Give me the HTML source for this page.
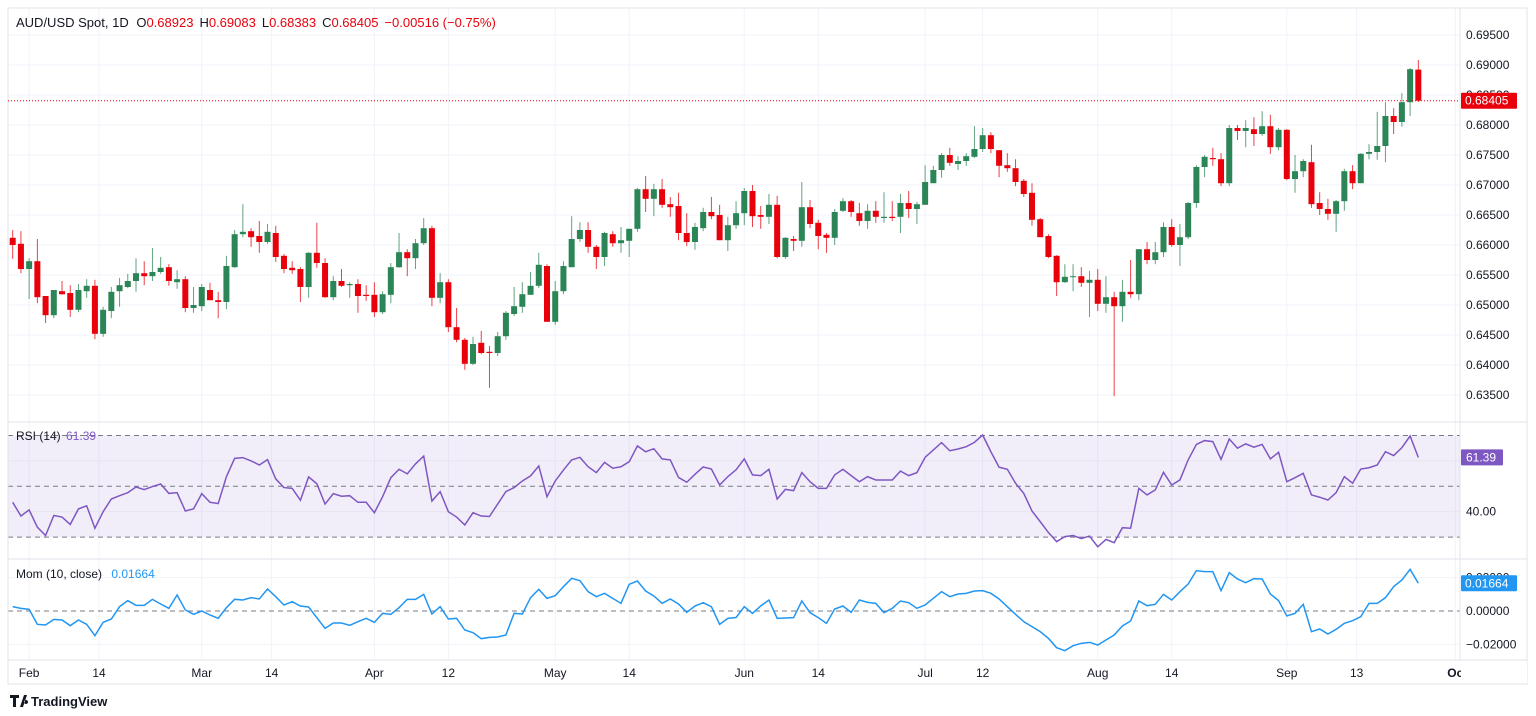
<!DOCTYPE html>
<html><head><meta charset="utf-8">
<style>
html,body{margin:0;padding:0;background:#fff;width:1536px;height:716px;overflow:hidden}
svg{display:block;font-family:"Liberation Sans",sans-serif}
</style></head>
<body>
<svg id="chart" width="1536" height="716" viewBox="0 0 1536 716" xmlns="http://www.w3.org/2000/svg">
<rect x="0" y="0" width="1536" height="716" fill="#fff"/>
<g id="grid"></g>
<g id="rsiPane"></g>
<g id="momPane"></g>
<g id="candles"></g>
<g id="axes"></g>
<g id="legend">
  <text x="16" y="27" font-size="13" fill="#131722">AUD/USD Spot, 1D <tspan dx="4">O</tspan><tspan fill="#e8000b">0.68923</tspan><tspan dx="6">H</tspan><tspan fill="#e8000b">0.69083</tspan><tspan dx="6">L</tspan><tspan fill="#e8000b">0.68383</tspan><tspan dx="6">C</tspan><tspan fill="#e8000b">0.68405</tspan><tspan dx="6" fill="#e8000b">−0.00516 (−0.75%)</tspan></text>
  <text x="16" y="440" font-size="12" fill="#131722">RSI (14) <tspan fill="#7e57c2" dx="2">61.39</tspan></text>
  <text x="16" y="578" font-size="12" fill="#131722">Mom (10, close) <tspan fill="#2196f3" dx="6">0.01664</tspan></text>
</g>
<g>
  <path d="M10 695 h9 v3 h-3 v9 h-3 v-9 h-3z M20 707 l4 -12 h3 l-4 12z M26 700 a2 2 0 1 0 0.1 0z" fill="#131722"/>
  <text x="31" y="706" font-size="13" fill="#131722" font-weight="bold">TradingView</text>
</g>
</svg>
<script>
const candles = [
[.6612,.6625,.6577,.6600],[.6602,.6623,.6553,.6560],[.6560,.6578,.6510,.6573],[.6573,.6610,.6503,.6513],[.6515,.6515,.6470,.6483],
[.6483,.6525,.6478,.6525],[.6523,.6540,.6517,.6518],[.6520,.6533,.6480,.6492],[.6492,.6535,.6488,.6525],[.6523,.6543,.6512,.6532],
[.6532,.6542,.6443,.6452],[.6452,.6497,.6447,.6492],[.6490,.6530,.6478,.6522],[.6523,.6545,.6497,.6533],[.6530,.6552,.6528,.6540],
[.6540,.6578,.6522,.6553],[.6553,.6573,.6533,.6548],[.6548,.6595,.6540,.6555],[.6555,.6580,.6552,.6562],[.6563,.6568,.6532,.6540],
[.6538,.6558,.6527,.6543],[.6543,.6548,.6488,.6495],[.6495,.6530,.6487,.6500],[.6498,.6535,.6490,.6530],[.6525,.6537,.6508,.6508],
[.6508,.6522,.6478,.6505],[.6505,.6582,.6493,.6565],[.6563,.6625,.6562,.6618],[.6618,.6668,.6613,.6622],[.6623,.6628,.6597,.6613],
[.6615,.6640,.6587,.6605],[.6605,.6635,.6602,.6622],[.6620,.6632,.6572,.6580],[.6582,.6585,.6553,.6560],[.6562,.6573,.6552,.6558],
[.6560,.6563,.6505,.6530],[.6530,.6588,.6512,.6587],[.6587,.6637,.6562,.6570],[.6570,.6578,.6512,.6513],[.6513,.6548,.6508,.6540],
[.6540,.6560,.6530,.6532],[.6533,.6538,.6512,.6535],[.6535,.6543,.6487,.6515],[.6517,.6533,.6507,.6515],[.6517,.6538,.6480,.6488],
[.6488,.6523,.6485,.6518],[.6517,.6570,.6503,.6563],[.6563,.6620,.6562,.6588],[.6588,.6593,.6548,.6578],[.6578,.6610,.6560,.6603],
[.6603,.6645,.6600,.6628],[.6628,.6632,.6498,.6512],[.6512,.6553,.6503,.6538],[.6538,.6543,.6455,.6463],[.6463,.6495,.6438,.6442],
[.6442,.6445,.6392,.6402],[.6402,.6447,.6400,.6435],[.6437,.6457,.6418,.6420],[.6422,.6432,.6362,.6420],[.6420,.6455,.6415,.6448],
[.6448,.6490,.6442,.6487],[.6485,.6530,.6482,.6498],[.6497,.6538,.6487,.6518],[.6517,.6555,.6517,.6532],[.6532,.6587,.6528,.6567],
[.6565,.6568,.6472,.6472],[.6472,.6540,.6467,.6523],[.6523,.6573,.6518,.6565],[.6563,.6648,.6563,.6610],[.6610,.6638,.6605,.6625],
[.6625,.6638,.6587,.6597],[.6597,.6600,.6560,.6580],[.6580,.6622,.6565,.6620],[.6618,.6623,.6597,.6603],[.6603,.6630,.6587,.6608],
[.6607,.6627,.6580,.6627],[.6627,.6695,.6622,.6693],[.6693,.6715,.6655,.6677],[.6677,.6702,.6648,.6693],[.6693,.6710,.6662,.6667],
[.6668,.6680,.6647,.6663],[.6665,.6687,.6608,.6620],[.6620,.6653,.6598,.6605],[.6605,.6637,.6592,.6630],[.6628,.6662,.6623,.6655],
[.6655,.6680,.6643,.6648],[.6650,.6667,.6608,.6608],[.6608,.6647,.6590,.6633],[.6633,.6673,.6627,.6653],[.6653,.6695,.6633,.6690],
[.6690,.6700,.6630,.6648],[.6650,.6665,.6627,.6647],[.6647,.6685,.6635,.6667],[.6667,.6682,.6578,.6580],[.6580,.6613,.6577,.6612],
[.6610,.6615,.6590,.6607],[.6607,.6705,.6597,.6663],[.6663,.6675,.6628,.6635],[.6637,.6642,.6593,.6615],[.6617,.6620,.6587,.6612],
[.6612,.6660,.6600,.6655],[.6657,.6678,.6655,.6673],[.6673,.6675,.6647,.6655],[.6653,.6670,.6632,.6640],[.6640,.6668,.6627,.6657],
[.6657,.6673,.6637,.6647],[.6645,.6688,.6637,.6647],[.6647,.6673,.6640,.6645],[.6647,.6685,.6620,.6670],[.6670,.6690,.6645,.6660],
[.6660,.6672,.6635,.6668],[.6667,.6733,.6667,.6705],[.6703,.6732,.6703,.6725],[.6725,.6753,.6712,.6750],[.6750,.6762,.6732,.6737],
[.6735,.6748,.6725,.6740],[.6740,.6753,.6732,.6748],[.6747,.6798,.6745,.6760],[.6760,.6795,.6755,.6783],[.6783,.6788,.6753,.6760],
[.6758,.6758,.6713,.6732],[.6733,.6753,.6722,.6728],[.6728,.6743,.6698,.6705],[.6707,.6710,.6680,.6685],[.6687,.6703,.6632,.6642],
[.6643,.6645,.6613,.6613],[.6615,.6618,.6578,.6580],[.6582,.6583,.6515,.6538],[.6538,.6568,.6537,.6547],[.6547,.6568,.6523,.6548],
[.6548,.6563,.6530,.6537],[.6537,.6557,.6480,.6542],[.6542,.6560,.6490,.6502],[.6502,.6548,.6487,.6513],[.6513,.6522,.6348,.6498],
[.6498,.6542,.6472,.6522],[.6522,.6575,.6512,.6518],[.6518,.6593,.6508,.6593],[.6593,.6605,.6568,.6575],[.6575,.6605,.6568,.6588],
[.6588,.6638,.6580,.6630],[.6630,.6643,.6597,.6600],[.6600,.6635,.6565,.6613],[.6613,.6672,.6610,.6670],[.6670,.6733,.6662,.6730],
[.6730,.6750,.6713,.6747],[.6745,.6762,.6732,.6743],[.6743,.6753,.6698,.6703],[.6703,.6800,.6698,.6795],[.6795,.6800,.6775,.6790],
[.6790,.6808,.6763,.6795],[.6793,.6813,.6765,.6785],[.6785,.6823,.6782,.6798],[.6798,.6817,.6752,.6763],[.6763,.6795,.6758,.6792],
[.6792,.6793,.6708,.6710],[.6710,.6750,.6687,.6723],[.6723,.6743,.6713,.6740],[.6738,.6767,.6662,.6668],[.6670,.6688,.6650,.6660],
[.6660,.6677,.6642,.6652],[.6652,.6675,.6622,.6673],[.6673,.6727,.6657,.6723],[.6723,.6733,.6693,.6703],[.6703,.6753,.6703,.6752],
[.6752,.6768,.6743,.6755],[.6755,.6822,.6742,.6765],[.6765,.6838,.6738,.6815],[.6815,.6828,.6785,.6805],[.6805,.6853,.6797,.6838],
[.6838,.6895,.6815,.6893],[.68923,.69083,.68383,.68405]
];
const rsiValues = [43.7,38.3,40.7,33.9,30.6,38.5,37.9,35.0,41.1,42.3,33.5,40.0,45.0,46.3,47.5,49.7,48.7,49.9,50.9,47.2,
47.5,40.3,41.1,47.1,43.7,43.2,53.8,61.0,61.3,60.0,58.4,60.5,52.9,49.5,49.2,44.5,53.7,51.0,43.0,47.1,
46.1,46.3,43.7,43.7,39.6,45.9,53.4,56.7,54.9,58.8,61.9,44.2,47.9,40.0,37.9,34.8,39.6,38.3,38.1,43.0,
47.9,49.5,52.1,54.1,58.0,45.9,52.1,56.4,60.4,61.4,57.7,55.4,59.4,57.1,57.7,59.7,65.9,63.6,64.8,60.8,
60.4,53.5,51.6,54.7,57.6,56.8,50.5,53.8,56.5,60.8,54.5,54.2,56.7,45.0,48.8,48.3,55.4,51.8,49.2,49.2,
54.5,56.7,54.2,51.8,53.8,52.5,52.5,52.5,56.0,54.2,55.4,61.4,64.3,67.2,64.0,64.7,65.6,67.3,70.2,63.6,
57.5,56.7,51.2,47.2,40.3,36.1,31.8,28.2,30.2,30.6,29.4,30.4,26.2,29.1,27.8,33.7,33.5,49.2,46.6,48.6,
55.5,50.5,52.5,60.4,66.5,68.0,67.6,60.6,68.6,65.0,66.7,65.4,66.5,60.8,63.4,51.8,53.4,55.1,46.6,45.7,
44.6,47.5,53.8,51.2,56.8,57.3,58.4,63.6,62.1,65.2,69.8,61.39];
const momValues = [0.0026,0.0016,0.0010,-0.0080,-0.0084,-0.0050,-0.0054,-0.0088,-0.0054,-0.0080,-0.0148,-0.0068,-0.0048,0.0026,0.0062,0.0034,0.0034,0.0070,0.0042,0.0016,
0.0096,0.0006,-0.0020,0.0000,-0.0024,-0.0044,0.0020,0.0070,0.0066,0.0080,0.0072,0.0132,0.0086,0.0036,0.0056,0.0030,0.0024,-0.0040,-0.0104,-0.0072,
-0.0072,-0.0086,-0.0064,-0.0044,-0.0068,-0.0014,-0.0020,0.0020,0.0070,0.0070,0.0100,-0.0018,0.0026,-0.0048,-0.0044,-0.0114,-0.0130,-0.0166,-0.0158,-0.0156,
-0.0144,-0.0014,-0.0018,0.0080,0.0130,0.0076,0.0092,0.0146,0.0196,0.0182,0.0116,0.0086,0.0106,0.0076,0.0046,0.0160,0.0180,0.0120,0.0090,0.0046,
0.0072,0.0042,-0.0008,0.0030,0.0050,0.0026,-0.0080,-0.0044,-0.0039,0.0026,-0.0014,0.0030,0.0066,-0.0044,-0.0042,-0.0040,0.0060,-0.0010,-0.0040,-0.0074,
0.0012,0.0030,-0.0008,0.0066,0.0052,0.0046,-0.0010,0.0016,0.0060,0.0050,0.0016,0.0036,0.0076,0.0116,0.0086,0.0102,0.0106,0.0120,0.0122,0.0106,
0.0072,0.0026,-0.0020,-0.0064,-0.0094,-0.0124,-0.0164,-0.0220,-0.0238,-0.0208,-0.0194,-0.0188,-0.0204,-0.0174,-0.0144,-0.0090,-0.0060,0.0060,0.0032,0.0040,
0.0100,0.0066,0.0116,0.0162,0.0242,0.0236,0.0236,0.0122,0.0230,0.0192,0.0170,0.0194,0.0192,0.0102,0.0062,-0.0030,-0.0014,0.0040,-0.0124,-0.0108,
-0.0138,-0.0110,-0.0074,-0.0058,-0.0034,0.0046,0.0046,0.0080,0.0146,0.0186,0.0250,0.01664];
const priceTicks = [0.635,0.640,0.645,0.650,0.655,0.660,0.665,0.670,0.675,0.680,0.685,0.690,0.695];
const dateLabels = ["Feb","14","Mar","14","Apr","12","May","14","Jun","14","Jul","12","Aug","14","Sep","13","Oc"];
const dateIndex = [2,10.5,23,31.5,44,53,66,75,89,98,111,118,132,141,155,163.5,175.5];
const rsiLevels = [70,50,30];
const rsiGrid = [60,40];
const momGrid = [0.02,-0.02];

const NS="http://www.w3.org/2000/svg";
function mk(tag, attrs, parent){const e=document.createElementNS(NS,tag);for(const k in attrs)e.setAttribute(k,attrs[k]);parent.appendChild(e);return e;}
const xOf = i => 12.7 + i*8.22;
const yP = p => 35 + (0.695 - p)*6000;
const yR = v => 486.3 - (v-50)*2.54;
const yM = v => 611 - v*1667;
const PL=8, PR=1460;
const grid=document.getElementById('grid'), axes=document.getElementById('axes');
const cg=document.getElementById('candles'), rp=document.getElementById('rsiPane'), mp=document.getElementById('momPane');

// frame
let fr=mk('rect',{x:8,y:8,width:1519,height:676,fill:'none',stroke:'#e0e3eb','stroke-width':1},axes);


let ax=mk('line',{x1:PR,y1:8,x2:PR,y2:660,stroke:'#e0e3eb'},axes);


[422,559,660].forEach(y=>{const l=mk('line',{x1:8,y1:y,x2:1527,y2:y,stroke:'#e0e3eb'},axes);

});

// vertical grid + date labels
dateIndex.forEach((d,j)=>{const x=xOf(d);
 if(x<PR){const l=mk('line',{x1:x,y1:8,x2:x,y2:660,stroke:'#f0f3fa'},grid);
 
 }
 const t=mk('text',{x:x,y:677,'font-size':12,'text-anchor':'middle',fill:'#131722','font-weight':dateLabels[j]==='Oc'?'bold':'normal'},axes);
 t.textContent=dateLabels[j];
 
 });
let cover=mk('rect',{x:1461,y:661,width:66,height:22,fill:'#fff'},axes);



// price grid & labels
priceTicks.forEach(p=>{const y=yP(p);
 const l=mk('line',{x1:PL,y1:y,x2:PR,y2:y,stroke:'#f0f3fa'},grid);
 
 
 const t=mk('text',{x:1466,y:y+4,'font-size':12,fill:'#131722'},axes);
 t.textContent=p.toFixed(5);
 
 });

// candles
candles.forEach((c,i)=>{const [o,h,l,cl]=c;const up=cl>=o;const col=up?'#2b8556':'#e8000b';const x=xOf(i);
 const g=mk('g',{},cg);
 
 
 mk('line',{x1:x,y1:yP(h),x2:x,y2:yP(l),stroke:col,'stroke-width':1,opacity:0.75},g);
 const top=yP(Math.max(o,cl)), bot=yP(Math.min(o,cl));
 mk('rect',{x:x-3,y:top,width:6,height:Math.max(1,bot-top),fill:col},g);});

// last price line & label
const last=candles[candles.length-1][3];
let lp=mk('line',{x1:PL,y1:yP(last),x2:PR,y2:yP(last),stroke:'#e8000b','stroke-dasharray':'1 2','stroke-width':1},axes);


let lb=mk('rect',{x:1461,y:yP(last)-8,width:56,height:16,fill:'#e8000b',rx:1},axes);


let lt=mk('text',{x:1465,y:yP(last)+4,'font-size':12,fill:'#fff'},axes);
lt.textContent=last.toFixed(5);



// RSI pane
let band=mk('rect',{x:PL,y:yR(70),width:PR-PL,height:yR(30)-yR(70),fill:'rgba(126,87,194,0.1)'},rp);


rsiGrid.forEach(v=>{const l=mk('line',{x1:PL,y1:yR(v),x2:PR,y2:yR(v),stroke:'#e6e3ef'},rp);
 
 });
rsiLevels.forEach(v=>{const l=mk('line',{x1:PL,y1:yR(v),x2:PR,y2:yR(v),stroke:'#787b86','stroke-dasharray':'5 4'},rp);
 
 });
let r40=mk('text',{x:1466,y:yR(40)+4,'font-size':12,fill:'#131722'},rp);r40.textContent='40.00';


let rl=mk('polyline',{points:rsiValues.map((v,i)=>xOf(i)+','+yR(v)).join(' '),fill:'none',stroke:'#7e57c2','stroke-width':1.5},rp);


const rlast=rsiValues[rsiValues.length-1];
let rb=mk('rect',{x:1461,y:yR(rlast)-8,width:42,height:16,fill:'#7e57c2',rx:1},rp);


let rt=mk('text',{x:1466,y:yR(rlast)+4,'font-size':12,fill:'#fff'},rp);rt.textContent=rlast.toFixed(2);



// Momentum pane
momGrid.forEach(v=>{const l=mk('line',{x1:PL,y1:yM(v),x2:PR,y2:yM(v),stroke:'#f0f3fa'},mp);
 
 
 const t=mk('text',{x:1466,y:yM(v)+4,'font-size':12,fill:'#131722'},mp);t.textContent=(v<0?'\u22120.02000':'0.02000');
 
 });
let z=mk('line',{x1:PL,y1:yM(0),x2:PR,y2:yM(0),stroke:'#787b86','stroke-dasharray':'5 4'},mp);


let zt=mk('text',{x:1466,y:yM(0)+4,'font-size':12,fill:'#131722'},mp);zt.textContent='0.00000';


let ml=mk('polyline',{points:momValues.map((v,i)=>xOf(i)+','+yM(v)).join(' '),fill:'none',stroke:'#2196f3','stroke-width':1.5},mp);


const mlast=momValues[momValues.length-1];
let mb=mk('rect',{x:1461,y:yM(mlast)-8,width:56,height:16,fill:'#2196f3',rx:1},mp);


let mt=mk('text',{x:1465,y:yM(mlast)+4,'font-size':12,fill:'#fff'},mp);mt.textContent=mlast.toFixed(5);


</script>
</body></html>
